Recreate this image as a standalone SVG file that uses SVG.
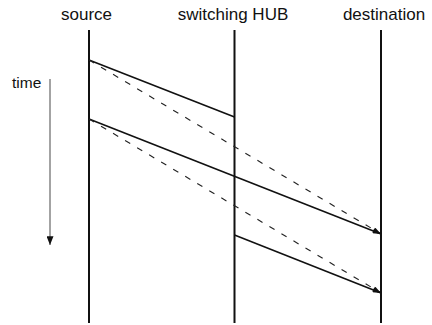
<svg xmlns="http://www.w3.org/2000/svg" width="432" height="325" viewBox="0 0 432 325">
  <style>
    .label { font-family: "Liberation Sans", Arial, sans-serif; font-size: 17px; fill: #111; text-anchor: middle; }
    .small { font-family: "Liberation Sans", Arial, sans-serif; font-size: 15.5px; fill: #111; }
    .life { stroke: #111; stroke-width: 2; fill: none; }
    .frame { stroke: #111; stroke-width: 1.6; fill: none; }
    .dash { stroke: #222; stroke-width: 1.1; fill: none; stroke-dasharray: 6 8; }
    .axis { stroke: #666; stroke-width: 1.2; fill: none; }
  </style>
  <defs>
    <marker id="tip" viewBox="0 0 10 6" refX="10" refY="3" markerWidth="10" markerHeight="5" markerUnits="userSpaceOnUse" orient="auto">
      <path d="M0,0 L10,3 L0,6 Z" fill="#111"/>
    </marker>
    <marker id="down" viewBox="0 0 10 8" refX="10" refY="4" markerWidth="10" markerHeight="7" markerUnits="userSpaceOnUse" orient="auto">
      <path d="M0,0 L10,4 L0,8 Z" fill="#111"/>
    </marker>
  </defs>

  <g id="source">
    <text class="label" x="86.5" y="20">source</text>
    <line class="life" x1="89" y1="30" x2="89" y2="323"/>
  </g>
  <g id="hub">
    <text class="label" x="233" y="20">switching HUB</text>
    <line class="life" x1="234.5" y1="30" x2="234.5" y2="323"/>
  </g>
  <g id="destination">
    <text class="label" x="384" y="20">destination</text>
    <line class="life" x1="381" y1="30" x2="381" y2="323"/>
  </g>
  <g id="time">
    <text class="small" x="12" y="88">time</text>
    <line class="axis" x1="50" y1="79" x2="50" y2="245" marker-end="url(#down)"/>
  </g>

  <g id="connectors">
    <!-- first frame: store-and-forward to the hub, cut-through shown dashed -->
    <line class="frame" x1="89" y1="60" x2="234.5" y2="117"/>
    <line class="dash" x1="89" y1="60" x2="381" y2="234" marker-end="url(#tip)"/>
    <!-- second frame -->
    <line class="frame" x1="89" y1="119" x2="381" y2="234" marker-end="url(#tip)"/>
    <line class="dash" x1="89" y1="119" x2="381" y2="293" marker-end="url(#tip)"/>
    <!-- forwarded frame from the hub -->
    <line class="frame" x1="234.5" y1="235" x2="381" y2="293" marker-end="url(#tip)"/>
  </g>
</svg>
